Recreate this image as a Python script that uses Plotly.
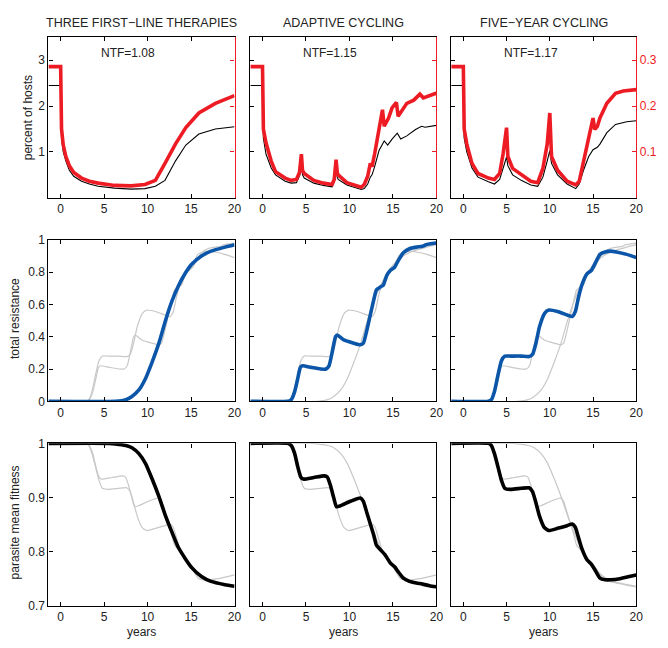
import plotly.graph_objects as go

# ---------------- data ----------------
titles = ["THREE FIRST\u2212LINE THERAPIES", "ADAPTIVE CYCLING", "FIVE\u2212YEAR CYCLING"]
ntf_labels = ["NTF=1.08", "NTF=1.15", "NTF=1.17"]
x_ticks = [0, 5, 10, 15, 20]

# top row: black thin (percent of hosts, left axis) and red thick (right axis)
hosts_three_x = [-1.4, 0, 0.1, 0.3, 0.6, 1.0, 1.5, 2.4, 3.3, 4.3, 6.2, 8.1, 9.7, 10.9, 12.0, 13.2, 14.4, 15.9, 17.8, 20]
hosts_three_y = [2.45, 2.45, 1.3, 1.0, 0.8, 0.6, 0.47, 0.36, 0.3, 0.25, 0.21, 0.19, 0.2, 0.25, 0.38, 0.8, 1.15, 1.39, 1.5, 1.55]
red_three_x = [-1.4, 0, 0.1, 0.3, 0.6, 1.0, 1.5, 2.4, 3.3, 4.3, 6.2, 8.1, 9.7, 10.9, 12.0, 13.2, 14.4, 15.9, 17.8, 20]
red_three_y = [0.286, 0.286, 0.15, 0.115, 0.09, 0.07, 0.055, 0.043, 0.036, 0.032, 0.027, 0.026, 0.029, 0.038, 0.075, 0.117, 0.153, 0.185, 0.206, 0.223]

hosts_adapt_x = [-1.4, 0, 0.1, 0.4, 1.0, 1.5, 2.6, 3.3, 3.9, 4.3, 4.47, 4.6, 4.8, 5.9, 7.0, 8.0, 8.25, 8.46, 8.6, 8.7, 9.7, 10.8, 11.35, 11.7, 12.1, 12.4, 12.6, 12.9, 13.4, 14.0, 14.4, 14.9, 15.5, 15.9, 16.6, 17.6, 18.3, 18.7, 20]
hosts_adapt_y = [2.45, 2.45, 1.3, 0.95, 0.65, 0.5, 0.36, 0.32, 0.33, 0.5, 0.72, 0.5, 0.43, 0.32, 0.27, 0.24, 0.35, 0.62, 0.45, 0.4, 0.28, 0.21, 0.18, 0.2, 0.3, 0.45, 0.5, 0.68, 1.03, 1.24, 1.15, 1.28, 1.41, 1.28, 1.35, 1.49, 1.56, 1.54, 1.58]
red_adapt_x = [-1.4, 0, 0.1, 0.4, 1.0, 1.5, 2.6, 3.3, 3.9, 4.25, 4.47, 4.6, 4.8, 5.9, 7.0, 8.0, 8.25, 8.46, 8.6, 8.7, 9.7, 10.8, 11.35, 11.7, 12.1, 12.4, 12.6, 12.9, 13.4, 13.8, 14.0, 14.5, 14.9, 15.4, 15.6, 16.1, 16.6, 17.4, 18.1, 18.5, 19.1, 19.8, 20]
red_adapt_y = [0.286, 0.286, 0.15, 0.12, 0.08, 0.057, 0.043, 0.038, 0.04, 0.055, 0.095, 0.06, 0.053, 0.038, 0.032, 0.029, 0.04, 0.083, 0.055, 0.05, 0.033, 0.025, 0.023, 0.029, 0.047, 0.075, 0.068, 0.096, 0.146, 0.192, 0.156, 0.174, 0.196, 0.208, 0.178, 0.192, 0.206, 0.213, 0.226, 0.218, 0.223, 0.227, 0.228]

hosts_five_x = [-1.4, 0, 0.1, 0.4, 1.0, 1.7, 2.9, 3.6, 4.2, 4.6, 5.0, 5.15, 5.7, 6.7, 7.8, 8.6, 9.2, 9.7, 10.0, 10.2, 10.9, 12.0, 13.0, 13.4, 13.9, 14.5, 15.0, 15.5, 15.8, 16.6, 17.6, 18.9, 20]
hosts_five_y = [2.45, 2.45, 1.3, 1.0, 0.65, 0.45, 0.35, 0.3, 0.4, 0.65, 0.89, 0.7, 0.5, 0.38, 0.28, 0.25, 0.45, 0.8, 1.03, 0.75, 0.5, 0.3, 0.2, 0.3, 0.6, 0.9, 1.05, 1.1, 1.17, 1.42, 1.6, 1.66, 1.68]
red_five_x = [-1.4, 0, 0.1, 0.4, 1.0, 1.7, 2.9, 3.6, 4.2, 4.6, 5.0, 5.15, 5.7, 6.7, 7.8, 8.6, 9.2, 9.7, 10.0, 10.2, 10.9, 12.0, 13.0, 13.4, 13.9, 14.5, 15.0, 15.2, 15.5, 15.8, 16.6, 17.6, 18.5, 20]
red_five_y = [0.286, 0.286, 0.15, 0.117, 0.075, 0.053, 0.043, 0.04, 0.053, 0.096, 0.153, 0.09, 0.064, 0.05, 0.036, 0.033, 0.064, 0.117, 0.185, 0.09, 0.06, 0.036, 0.028, 0.036, 0.082, 0.132, 0.174, 0.149, 0.156, 0.174, 0.206, 0.228, 0.233, 0.236]

# middle row: total resistance
res_three_x = [-1.4, 6.3, 7.5, 8.2, 9.0, 9.75, 10.5, 11.3, 12.0, 12.8, 13.5, 14.3, 15.1, 16.2, 17.3, 18.9, 20]
res_three_y = [0, 0, 0.01, 0.03, 0.07, 0.14, 0.24, 0.36, 0.49, 0.62, 0.71, 0.79, 0.85, 0.9, 0.93, 0.955, 0.97]
res_adapt_x = [-1.4, 2.9, 3.3, 3.7, 4.05, 4.35, 4.6, 5.6, 6.7, 7.3, 7.65, 8.0, 8.4, 8.6, 9.35, 10.5, 11.25, 11.6, 12.0, 12.4, 12.8, 13.1, 13.6, 13.9, 14.3, 14.7, 15.2, 15.6, 16.2, 16.9, 17.7, 18.4, 18.8, 20]
res_adapt_y = [0, 0, 0.01, 0.06, 0.14, 0.21, 0.22, 0.21, 0.2, 0.2, 0.22, 0.3, 0.4, 0.41, 0.38, 0.36, 0.35, 0.36, 0.44, 0.535, 0.63, 0.69, 0.71, 0.72, 0.78, 0.81, 0.83, 0.87, 0.92, 0.945, 0.955, 0.96, 0.97, 0.98]
res_five_x = [-1.4, 2.9, 3.25, 3.6, 4.0, 4.4, 4.8, 5.5, 6.7, 7.6, 8.0, 8.4, 8.8, 9.4, 9.9, 10.9, 12.0, 12.6, 12.95, 13.3, 13.7, 14.3, 14.8, 15.2, 15.8, 16.4, 17.0, 17.7, 18.9, 20]
res_five_y = [0, 0, 0.01, 0.06, 0.16, 0.25, 0.28, 0.28, 0.28, 0.277, 0.29, 0.36, 0.46, 0.545, 0.565, 0.556, 0.535, 0.525, 0.555, 0.64, 0.72, 0.79, 0.81, 0.85, 0.91, 0.925, 0.93, 0.925, 0.91, 0.89]

# bottom row: parasite mean fitness
fit_three_x = [-1.4, 5.6, 6.3, 7.5, 8.2, 9.0, 9.75, 10.5, 11.3, 12.0, 12.8, 13.5, 14.3, 15.1, 16.2, 17.3, 18.9, 20]
fit_three_y = [1, 1, 0.999, 0.996, 0.992, 0.981, 0.963, 0.935, 0.902, 0.869, 0.836, 0.809, 0.788, 0.77, 0.754, 0.745, 0.739, 0.736]
fit_adapt_x = [-1.4, 2.9, 3.3, 3.7, 4.05, 4.4, 4.7, 5.9, 7.1, 7.45, 7.8, 8.2, 8.5, 9.0, 10.1, 11.25, 11.6, 12.0, 12.4, 12.8, 13.1, 13.6, 14.1, 14.7, 15.2, 15.6, 16.2, 16.9, 17.7, 18.4, 19.2, 20]
fit_adapt_y = [1, 1, 0.996, 0.981, 0.957, 0.938, 0.934, 0.937, 0.94, 0.938, 0.923, 0.899, 0.883, 0.885, 0.893, 0.899, 0.893, 0.872, 0.851, 0.83, 0.812, 0.803, 0.794, 0.779, 0.772, 0.763, 0.751, 0.745, 0.742, 0.74, 0.737, 0.735]
fit_five_x = [-1.4, 2.9, 3.25, 3.6, 4.0, 4.4, 4.8, 5.5, 6.7, 7.6, 8.0, 8.4, 8.8, 9.35, 9.9, 10.9, 12.0, 12.6, 12.95, 13.3, 13.7, 14.3, 14.8, 15.2, 15.8, 16.4, 17.0, 18.1, 19.2, 20]
fit_five_y = [1, 1, 0.996, 0.981, 0.957, 0.932, 0.917, 0.915, 0.917, 0.918, 0.911, 0.89, 0.866, 0.845, 0.839, 0.843, 0.848, 0.851, 0.845, 0.827, 0.806, 0.785, 0.777, 0.767, 0.751, 0.748, 0.748, 0.75, 0.754, 0.757]

# ---------------- styling ----------------
W, H = 668, 648
RED = "#ED1C24"
BLUE = "#0B56A8"
GRAY = "#C8C8C8"
FONT = "Liberation Sans, Arial, sans-serif"
TXT = "#222222"

def px_x(p):
    return p / W

def px_y(p):
    return 1 - p / H

col_px = [(49, 237), (253, 441), (456, 643)]
row_px = [(31, 195), (238, 403), (446, 612)]
xdom = [[px_x(a), px_x(b)] for a, b in col_px]
ydom = [[px_y(b), px_y(a)] for a, b in row_px]

hosts = [(hosts_three_x, hosts_three_y), (hosts_adapt_x, hosts_adapt_y), (hosts_five_x, hosts_five_y)]
reds = [(red_three_x, red_three_y), (red_adapt_x, red_adapt_y), (red_five_x, red_five_y)]
res = [(res_three_x, res_three_y), (res_adapt_x, res_adapt_y), (res_five_x, res_five_y)]
fit = [(fit_three_x, fit_three_y), (fit_adapt_x, fit_adapt_y), (fit_five_x, fit_five_y)]

fig = go.Figure()
layout = dict(width=W, height=H, margin=dict(l=0, r=0, t=0, b=0),
              paper_bgcolor="white", plot_bgcolor="white", showlegend=False,
              font=dict(family=FONT, size=11, color=TXT), hovermode=False)

def axname(k):
    return "" if k == 1 else str(k)

yranges = [[0, 3.5], [0, 1], [0.7, 1]]
ytickvals = [[1, 2, 3], [0, 0.2, 0.4, 0.6, 0.8, 1], [0.7, 0.8, 0.9, 1]]
yticktext = [["1", "2", "3"], ["0", "0.2", "0.4", "0.6", "0.8", "1"], ["0.7", "0.8", "0.9", "1"]]

for r in range(3):
    for c in range(3):
        k = r * 3 + c + 1
        layout["xaxis" + axname(k)] = dict(
            domain=xdom[c], anchor="y" + axname(k), range=[-1.4, 20],
            tickvals=x_ticks, ticks="inside", ticklen=4, tickcolor="black",
            showline=True, linecolor="black", linewidth=1.3, mirror="ticks",
            showgrid=False, zeroline=False, tickfont=dict(size=12, color=TXT))
        layout["yaxis" + axname(k)] = dict(
            domain=ydom[r], anchor="x" + axname(k), range=yranges[r],
            tickvals=ytickvals[r], ticktext=yticktext[r], showticklabels=(c == 0),
            ticks="inside", ticklen=4, tickcolor="black",
            showline=True, linecolor="black", linewidth=1.3,
            mirror=(False if r == 0 else "ticks"),
            showgrid=False, zeroline=False, tickfont=dict(size=12, color=TXT))
        xa = "x" + axname(k)
        ya = "y" + axname(k)
        if r == 0:
            hx, hy = hosts[c]
            fig.add_trace(go.Scatter(x=hx, y=hy, mode="lines", xaxis=xa, yaxis=ya,
                                     line=dict(color="black", width=1.1)))
            ra = 9 + c + 1
            layout["yaxis" + str(ra)] = dict(
                overlaying=ya, anchor=xa, side="right", range=[0, 0.35],
                tickvals=[0.1, 0.2, 0.3], showticklabels=(c == 2),
                ticks="inside", ticklen=4, tickcolor=RED,
                showline=True, linecolor=RED, linewidth=1.3,
                showgrid=False, zeroline=False, tickfont=dict(size=12, color=RED))
            rx, ry = reds[c]
            fig.add_trace(go.Scatter(x=rx, y=ry, mode="lines", xaxis=xa, yaxis="y" + str(ra),
                                     line=dict(color=RED, width=3.6)))
        else:
            data = res if r == 1 else fit
            main_color = BLUE if r == 1 else "black"
            for j in range(3):
                if j != c:
                    gx, gy = data[j]
                    fig.add_trace(go.Scatter(x=gx, y=gy, mode="lines", xaxis=xa, yaxis=ya,
                                             line=dict(color=GRAY, width=1.2, shape="spline", smoothing=0.5)))
            mx, my = data[c]
            fig.add_trace(go.Scatter(x=mx, y=my, mode="lines", xaxis=xa, yaxis=ya,
                                     line=dict(color=main_color, width=3.6, shape="spline", smoothing=0.5)))

def note(text, x, y, size=12, angle=0, xref="paper", yref="paper"):
    return dict(text=text, x=x, y=y, xref=xref, yref=yref, showarrow=False, textangle=angle,
                xanchor="center", yanchor="middle", font=dict(size=size, color=TXT))

annotations = []
for c in range(3):
    cx = (xdom[c][0] + xdom[c][1]) / 2
    annotations.append(note(titles[c], cx, px_y(16), size=12.5))
    annotations.append(note(ntf_labels[c], 7.8, 3.15, xref="x" + axname(c + 1), yref="y" + axname(c + 1)))
    annotations.append(note("years", cx, px_y(639)))

annotations.append(note("percent of hosts", px_x(28), px_y(113), angle=-90))
annotations.append(note("total resistance", px_x(15), px_y(318), angle=-90))
annotations.append(note("parasite mean fitness", px_x(15), px_y(527), angle=-90))
layout["annotations"] = annotations

fig.update_layout(**layout)
fig.write_html("out.html", config={"displayModeBar": False},
               post_script="document.body.style.margin='0px';document.body.style.padding='0px';"
                           "document.documentElement.style.overflow='hidden';")
